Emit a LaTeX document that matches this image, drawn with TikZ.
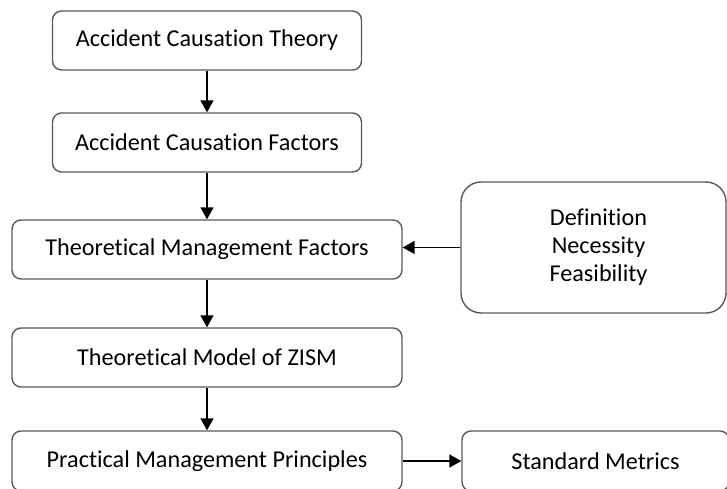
\documentclass[tikz,border=0pt]{standalone}
\usepackage{fontspec}
\setmainfont[Ligatures=NoCommon]{Carlito}
\usetikzlibrary{arrows.meta}
\definecolor{edge}{HTML}{5A5A5A}
\begin{document}
\begin{tikzpicture}[x=1pt,y=-1pt,
  box/.style={draw=edge, line width=1.4pt, rounded corners=9pt, fill=white,
    inner sep=0pt, align=center, font=\fontsize{24.2}{28}\selectfont},
  arr/.style={draw=black, line width=1.6pt, -{Triangle[length=12pt,width=13pt]}}]
\useasboundingbox (0,0) rectangle (727,489);
\clip (0,0) rectangle (727,489);
\node[box, minimum width=309pt, minimum height=59pt] (b1) at (207,40.5) {Accident Causation Theory};
\node[box, minimum width=309pt, minimum height=59pt] (b2) at (207,142.5) {Accident Causation Factors};
\node[box, minimum width=390pt, minimum height=59pt] (b3) at (207,249.5) {Theoretical Management Factors};
\node[box, minimum width=390pt, minimum height=59pt] (b4) at (207,357.5) {Theoretical Model of ZISM};
\node[box, minimum width=390pt, minimum height=60pt] (b5) at (207,461) {Practical Management Principles};
\node[box, minimum width=267pt, minimum height=60pt] (sm) at (595.5,461) {Standard Metrics};
\node[box, rounded corners=20pt, minimum width=265pt, minimum height=131pt] (r) at (593.5,247.5)
  {\hspace*{10pt}Definition\\\hspace*{10pt}Necessity\\\hspace*{10pt}Feasibility};
\draw[arr] (b1.south) -- (b1.south |- b2.north);
\draw[arr] (b2.south) -- (b2.south |- b3.north);
\draw[arr] (b3.south) -- (b3.south |- b4.north);
\draw[arr] (b4.south) -- (b4.south |- b5.north);
\draw[arr] (r.west) -- (r.west -| b3.east);
\draw[arr] (b5.east) -- (sm.west);
\end{tikzpicture}
\end{document}
